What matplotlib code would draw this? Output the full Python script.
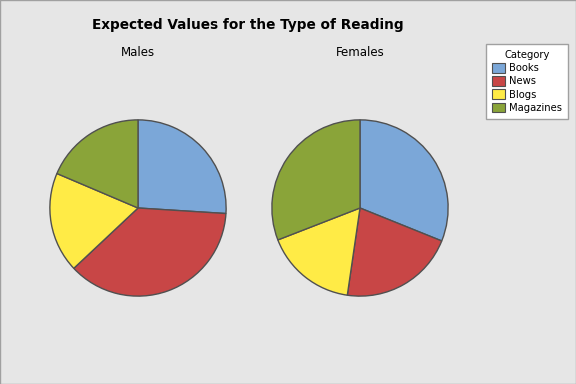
import matplotlib
matplotlib.use("Agg")
import matplotlib.pyplot as plt
from matplotlib.patches import Patch

categories = ["Books", "News", "Blogs", "Magazines"]
males = [26.0, 37.0, 18.4, 18.6]
females = [31.1, 21.2, 16.8, 30.9]
groups = ["Males", "Females"]
colors = ["#7BA7D8", "#C84646", "#FFEB46", "#8AA439"]
bg = "#E6E6E6"
edge = "#505050"

W, H = 576, 384
fig = plt.figure(figsize=(W / 100, H / 100), dpi=100, facecolor=bg)

r = 89
centers = [(138, 208), (360, 208)]
for (cx, cy), vals, name in zip(centers, [males, females], groups):
    ax = fig.add_axes([(cx - r) / W, (H - cy - r) / H, 2 * r / W, 2 * r / H])
    ax.set_facecolor(bg)
    ax.pie(vals, colors=colors, startangle=90, counterclock=False, radius=1,
           wedgeprops=dict(edgecolor=edge, linewidth=1.0))
    ax.set_xlim(-1.01, 1.01)
    ax.set_ylim(-1.01, 1.01)
    ax.set_aspect("equal")
    ax.axis("off")
    fig.text(cx / W, 1 - 52 / H, name, ha="center", va="center", fontsize=8.5)

fig.text(248 / W, 1 - 25 / H, "Expected Values for the Type of Reading",
         ha="center", va="center", fontsize=9.8, fontweight="bold")

handles = [Patch(facecolor=c, edgecolor=edge, linewidth=0.8, label=l)
           for c, l in zip(colors, categories)]
leg = fig.legend(handles=handles, title="Category", loc="upper left",
                 bbox_to_anchor=(486 / W, 1 - 44 / H), fontsize=7.2,
                 title_fontsize=7.2, frameon=True, fancybox=False,
                 edgecolor="#A0A0A0", facecolor="white", framealpha=1,
                 handlelength=1.3, handleheight=1.1, handletextpad=0.4,
                 labelspacing=0.3, borderpad=0.6, borderaxespad=0)

border = plt.Rectangle((0, 0), 1, 1, transform=fig.transFigure, fill=False,
                       edgecolor="#A0A0A0", linewidth=1)
fig.patches.append(border)

fig.savefig("out.png", dpi=100, facecolor=bg)
